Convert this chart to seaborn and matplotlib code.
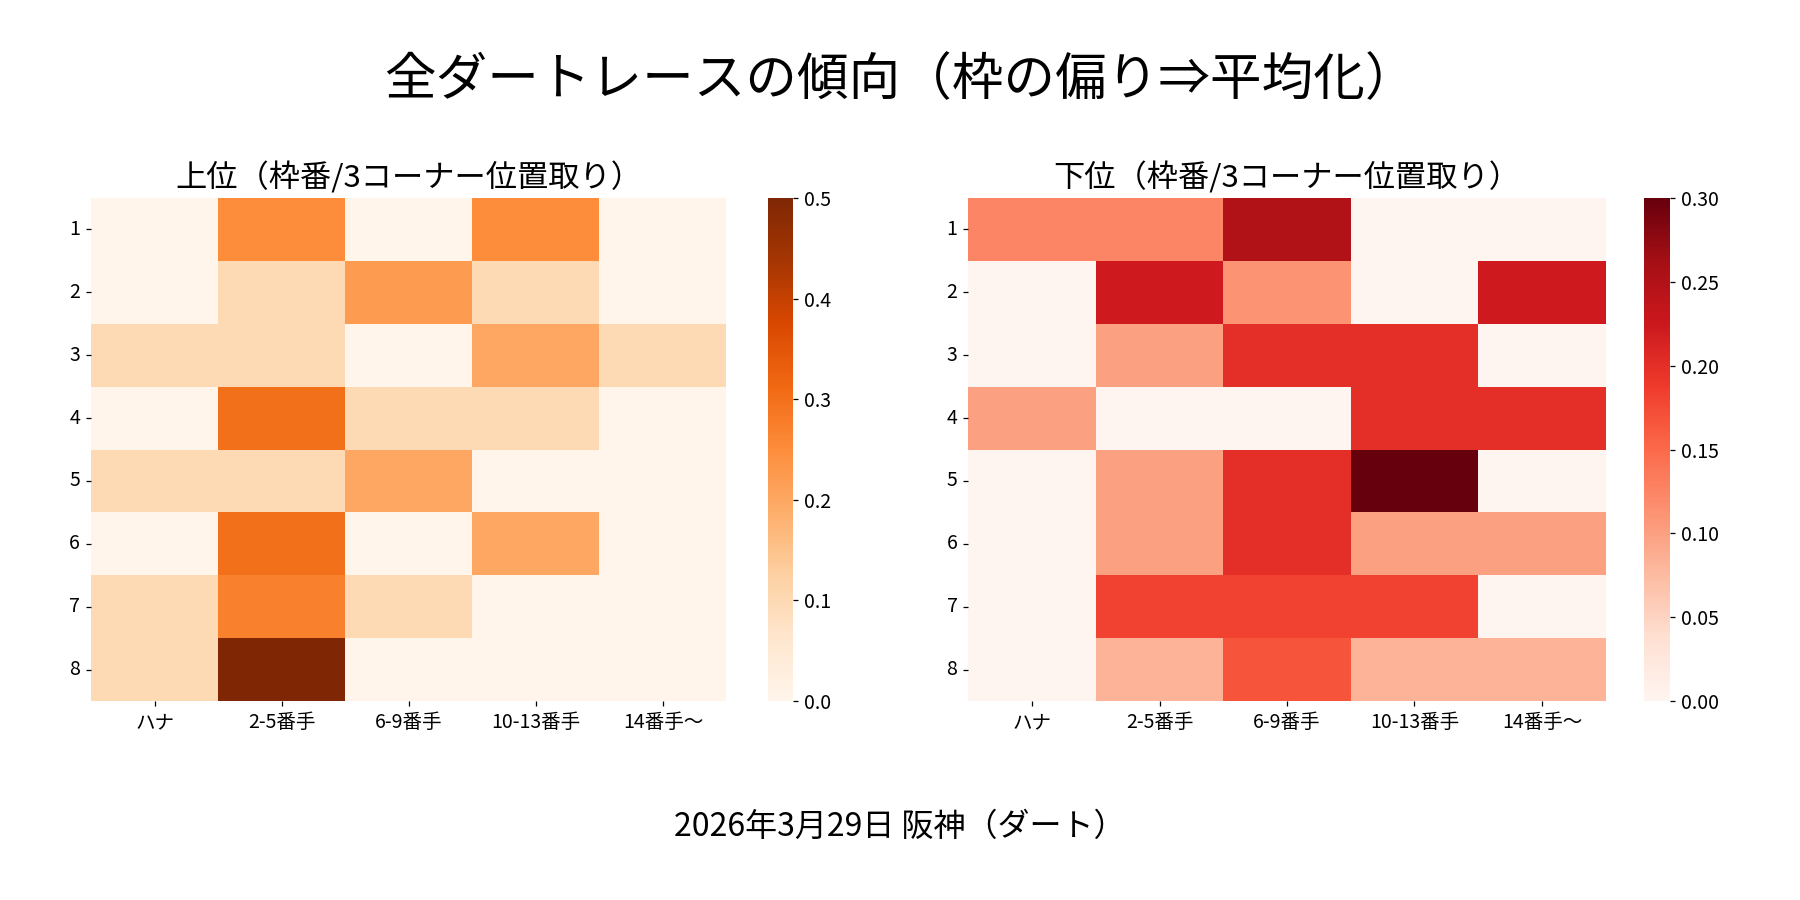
import numpy as np
import pandas as pd
import matplotlib
matplotlib.use("Agg")
import matplotlib.pyplot as plt
import seaborn as sns

plt.rcParams['font.family'] = ['Noto Sans CJK JP', 'DejaVu Sans']

suptitle = "全ダートレースの傾向（枠の偏り⇒平均化）"
footer = "2026年3月29日 阪神（ダート）"
title_top = "上位（枠番/3コーナー位置取り）"
title_bottom = "下位（枠番/3コーナー位置取り）"

positions = ["ハナ", "2-5番手", "6-9番手", "10-13番手", "14番手〜"]
gates = ["1", "2", "3", "4", "5", "6", "7", "8"]

top_g1 = [0.0, 0.25, 0.0, 0.25, 0.0]
top_g2 = [0.0, 0.10, 0.222, 0.10, 0.0]
top_g3 = [0.10, 0.10, 0.0, 0.20, 0.10]
top_g4 = [0.0, 0.30, 0.10, 0.10, 0.0]
top_g5 = [0.10, 0.10, 0.20, 0.0, 0.0]
top_g6 = [0.0, 0.30, 0.0, 0.20, 0.0]
top_g7 = [0.10, 0.27, 0.10, 0.0, 0.0]
top_g8 = [0.10, 0.50, 0.0, 0.0, 0.0]

bot_g1 = [0.125, 0.125, 0.25, 0.0, 0.0]
bot_g2 = [0.0, 0.222, 0.111, 0.0, 0.222]
bot_g3 = [0.0, 0.10, 0.20, 0.20, 0.0]
bot_g4 = [0.10, 0.0, 0.0, 0.20, 0.20]
bot_g5 = [0.0, 0.10, 0.20, 0.30, 0.0]
bot_g6 = [0.0, 0.10, 0.20, 0.10, 0.10]
bot_g7 = [0.0, 0.182, 0.182, 0.182, 0.0]
bot_g8 = [0.0, 0.083, 0.167, 0.083, 0.083]

top_df = pd.DataFrame([top_g1, top_g2, top_g3, top_g4, top_g5, top_g6, top_g7, top_g8],
                      index=gates, columns=positions)
bot_df = pd.DataFrame([bot_g1, bot_g2, bot_g3, bot_g4, bot_g5, bot_g6, bot_g7, bot_g8],
                      index=gates, columns=positions)

fig = plt.figure(figsize=(16, 8), dpi=112.5)
ax1 = fig.add_axes([0.0506, 0.221, 0.353, 0.559])
cax1 = fig.add_axes([0.4267, 0.221, 0.0139, 0.559])
ax2 = fig.add_axes([0.538, 0.221, 0.354, 0.559])
cax2 = fig.add_axes([0.9133, 0.221, 0.0144, 0.559])

sns.heatmap(top_df, ax=ax1, cbar_ax=cax1, cmap="Oranges", vmin=0, vmax=0.5)
sns.heatmap(bot_df, ax=ax2, cbar_ax=cax2, cmap="Reds", vmin=0, vmax=0.30)

cax1.set_yticks([0.0, 0.1, 0.2, 0.3, 0.4, 0.5])
cax2.set_yticks([0.0, 0.05, 0.10, 0.15, 0.20, 0.25, 0.30])
cax2.set_yticklabels(["0.00", "0.05", "0.10", "0.15", "0.20", "0.25", "0.30"])

for ax, t in ((ax1, title_top), (ax2, title_bottom)):
    ax.set_title(t, fontsize=20, pad=7)
    ax.set_xlabel("")
    ax.set_ylabel("")
    ax.tick_params(axis="y", rotation=0, labelsize=12.5)
    ax.tick_params(axis="x", rotation=0, labelsize=12.5)
for cax in (cax1, cax2):
    cax.tick_params(labelsize=12.5)

fig.suptitle(suptitle, fontsize=33, y=0.94)
fig.text(0.5, 0.081, footer, ha="center", va="center", fontsize=20.5)

fig.savefig("out.png", dpi=112.5)
